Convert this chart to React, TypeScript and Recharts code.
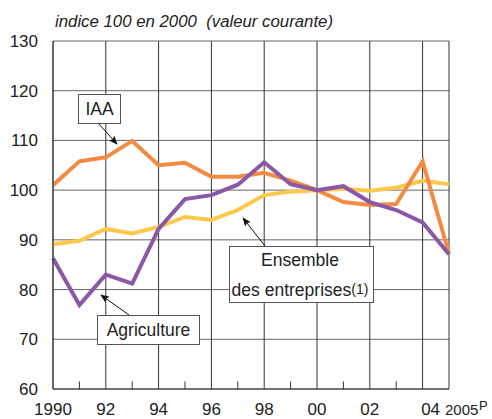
import React from 'react';
import {
  LineChart,
  Line,
  XAxis,
  YAxis,
  CartesianGrid,
  ReferenceLine,
} from 'recharts';

const years = [1990, 1991, 1992, 1993, 1994, 1995, 1996, 1997, 1998, 1999, 2000, 2001, 2002, 2003, 2004, 2005];
const iaa = [101, 105.8, 106.6, 109.9, 105, 105.5, 102.7, 102.7, 103.5, 101.9, 100, 97.6, 97, 97.2, 105.8, 87.2];
const ensemble = [89.1, 89.8, 92.2, 91.3, 92.6, 94.6, 94, 96, 99, 99.7, 100, 100.3, 99.9, 100.5, 101.9, 101.2];
const agriculture = [86.3, 76.9, 83, 81.2, 92.2, 98.2, 99, 101.1, 105.6, 101.2, 100, 100.8, 97.6, 96, 93.5, 87.1];

const xTicks = [1990, 1992, 1994, 1996, 1998, 2000, 2002, 2004, 2005];
const xTickLabels = ['1990', '92', '94', '96', '98', '00', '02', '04', '2005'];
const minorTicks = [1991, 1993, 1995, 1997, 1999, 2001, 2003];
const yTicks = [60, 70, 80, 90, 100, 110, 120, 130];

const data = years.map((year, i) => ({
  year,
  iaa: iaa[i],
  ensemble: ensemble[i],
  agriculture: agriculture[i],
}));

const FONT = '"Liberation Sans", Arial, sans-serif';

// x labels sit very close to the bottom edge, like in the original
function XTick(props: any) {
  const { x, payload } = props;
  const baseline = 415;
  const idx = xTicks.indexOf(payload.value);
  const label = xTickLabels[idx];
  if (payload.value === 2005) {
    return (
      <g fontFamily={FONT} fill="#222">
        <text x={x - 4} y={baseline} fontSize={15}>{label}</text>
        <text x={x + 30} y={baseline - 5} fontSize={13}>P</text>
      </g>
    );
  }
  const shift = payload.value === 2004 ? 8 : 0;
  return (
    <text x={x + shift} y={baseline} textAnchor="middle" fontSize={17} fill="#222" fontFamily={FONT}>
      {label}
    </text>
  );
}

function Annotations() {
  const boxStyle = { fill: '#fff', stroke: '#555', strokeWidth: 1 };
  return (
    <svg
      width={492}
      height={419}
      style={{ position: 'absolute', left: 0, top: 0, pointerEvents: 'none' }}
      fontFamily={FONT}
    >
      <defs>
        <marker id="head" viewBox="0 0 10 10" refX="9" refY="5" markerWidth="9" markerHeight="9" orient="auto">
          <path d="M0,1 L10,5 L0,9 L2,5 z" fill="#111" />
        </marker>
      </defs>
      <text x={55} y={27} fontSize={16.8} fontStyle="italic" fill="#222" style={{ whiteSpace: 'pre' }}>
        {'indice 100 en 2000  (valeur courante)'}
      </text>

      <line x1={98} y1={123} x2={117} y2={144} stroke="#111" strokeWidth={1} markerEnd="url(#head)" />
      <rect x={78.5} y={94.5} width={42} height={29} {...boxStyle} />
      <text x={99.5} y={115} fontSize={17.5} textAnchor="middle" fill="#222">IAA</text>

      <line x1={265} y1={246} x2={243} y2={218} stroke="#111" strokeWidth={1} markerEnd="url(#head)" />
      <rect x={229.5} y={246.5} width={144} height={56} {...boxStyle} />
      <text x={300} y={266} fontSize={17.5} textAnchor="middle" fill="#222">Ensemble</text>
      <text x={300} y={296} fontSize={17.5} textAnchor="middle" fill="#222">
        des entreprises<tspan fontSize={14} dy={-2}>(1)</tspan>
      </text>

      <line x1={129} y1={315} x2={101} y2={295} stroke="#111" strokeWidth={1} markerEnd="url(#head)" />
      <rect x={97.5} y={315.5} width={102} height={29} {...boxStyle} />
      <text x={148.5} y={336} fontSize={17.5} textAnchor="middle" fill="#222">Agriculture</text>
    </svg>
  );
}

export default function App() {
  return (
    <div style={{ position: 'absolute', left: 0, top: 0, width: 492, height: 419, background: '#fff' }}>
      <LineChart
        width={492}
        height={419}
        data={data}
        margin={{ top: 41, right: 43, bottom: 0, left: 0 }}
      >
        <CartesianGrid horizontal={true} vertical={false} stroke="#666" strokeWidth={1} />
        <CartesianGrid horizontal={false} vertical={true} stroke="#333" strokeWidth={1} />
        <XAxis
          dataKey="year"
          type="number"
          domain={[1990, 2005]}
          ticks={xTicks}
          interval={0}
          height={30}
          tickSize={0}
          tickMargin={16}
          axisLine={{ stroke: '#333' }}
          tickLine={false}
          tick={<XTick />}
        />
        <YAxis
          type="number"
          domain={[60, 130]}
          ticks={yTicks}
          interval={0}
          width={53}
          tickSize={0}
          tickMargin={15}
          axisLine={{ stroke: '#333' }}
          tickLine={false}
          tick={{ fontSize: 17, fill: '#222', fontFamily: FONT }}
        />
        {minorTicks.map((yr) => (
          <ReferenceLine
            key={yr}
            segment={[{ x: yr, y: 60 }, { x: yr, y: 61.5 }]}
            stroke="#333"
            strokeWidth={1}
          />
        ))}
        <Line dataKey="ensemble" stroke="#fec84b" strokeWidth={4} dot={false} isAnimationActive={false} strokeLinejoin="miter" />
        <Line dataKey="iaa" stroke="#f58b43" strokeWidth={4} dot={false} isAnimationActive={false} strokeLinejoin="miter" />
        <Line dataKey="agriculture" stroke="#8b58a6" strokeWidth={4} dot={false} isAnimationActive={false} strokeLinejoin="miter" />
      </LineChart>
      <Annotations />
    </div>
  );
}
